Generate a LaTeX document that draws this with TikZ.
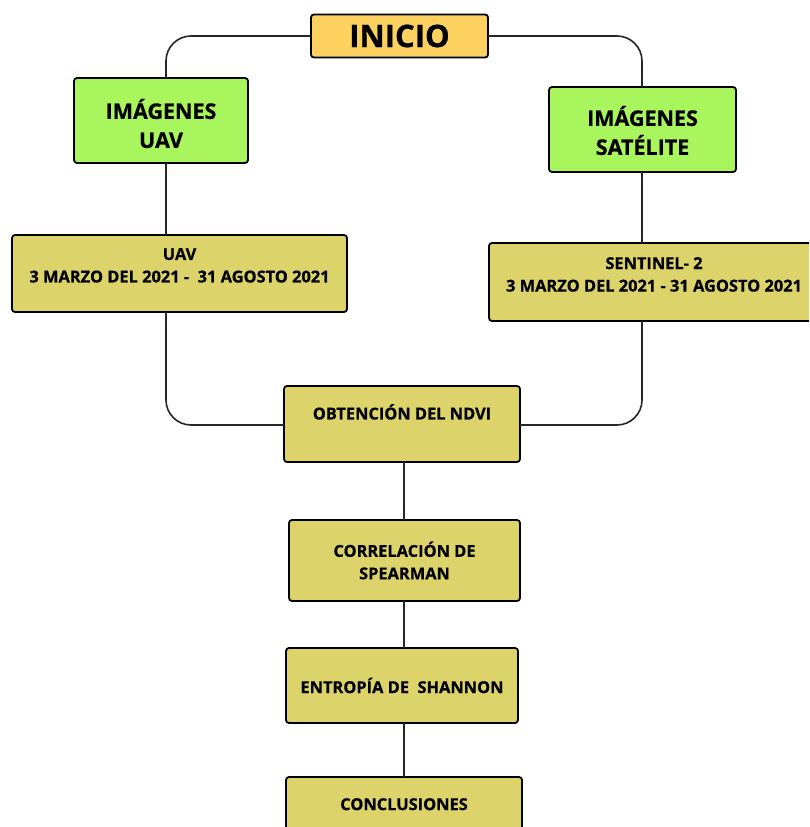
\documentclass[tikz,border=0pt]{standalone}
\usepackage{fontspec}
\IfFontExistsTF{Open Sans ExtraBold}
  {\setmainfont{Open Sans}[BoldFont={Open Sans ExtraBold}]}
  {\setmainfont{Open Sans}[BoldFeatures={FakeBold=0.6}]}
\definecolor{inicioc}{HTML}{FCD15F}
\definecolor{greenc}{HTML}{A8F55E}
\definecolor{olivec}{HTML}{DCD46B}
\definecolor{linec}{HTML}{262626}
\begin{document}
\begin{tikzpicture}[x=1pt,y=-1pt,
  box/.style={draw=black, line width=1.8pt, rounded corners=3pt, inner sep=0pt, outer sep=0pt},
  startbox/.style={box, fill=inicioc, font=\fontsize{31}{36}\selectfont\bfseries},
  greenbox/.style={box, fill=greenc},
  gtxt/.style={inner sep=0pt, align=center, font=\fontsize{21.5}{29}\selectfont\bfseries},
  olivebox/.style={box, fill=olivec},
  txt/.style={inner sep=0pt, align=center, font=\fontsize{16.4}{22.5}\selectfont\bfseries},
  conn/.style={draw=linec, line width=1.6pt, rounded corners=25pt}
]
\useasboundingbox (0,0) rectangle (809,827);
\clip (0,0) rectangle (809,827);
\fill[white] (0,0) rectangle (809,827);

\coordinate (lx) at (166,0);
\coordinate (rx) at (642,0);
\coordinate (mx) at (404,0);

% nodes
\node[startbox, minimum width=177pt, minimum height=43pt] (inicio) at (399.5,36) {INICIO};
\node[greenbox, minimum width=174pt, minimum height=85pt] (uavimg) at (161,120.5) {};
\node[gtxt] (uavimgtxt) at ([yshift=-3pt]uavimg.center) {IMÁGENES\\UAV};
\node[greenbox, minimum width=187pt, minimum height=85pt] (satimg) at (642.5,129.5) {};
\node[gtxt] (satimgtxt) at ([yshift=-1pt]satimg.center) {IMÁGENES\\SATÉLITE};

\node[olivebox, minimum width=335pt, minimum height=77pt] (uavbox) at (179.5,273.5) {};
\node[txt, anchor=north] (uavtxt) at ([yshift=-13pt]uavbox.north) {UAV\\3 MARZO DEL 2021 -\ \ 31 AGOSTO 2021};

\node[olivebox, minimum width=330pt, minimum height=78pt] (sentbox) at (654,282) {};
\node[txt, anchor=north] (senttxt) at ([yshift=-14pt]sentbox.north) {SENTINEL- 2\\3 MARZO DEL 2021 - 31 AGOSTO 2021};

\node[olivebox, minimum width=236pt, minimum height=76pt] (ndvi) at (402,424) {};
\node[txt, anchor=north] (ndvitxt) at ([yshift=-18pt]ndvi.north) {OBTENCIÓN DEL NDVI};

\node[olivebox, minimum width=231pt, minimum height=81pt] (corr) at (404.5,560.5) {};
\node[txt] (corrtxt) at (corr.center) {CORRELACIÓN DE\\SPEARMAN};

\node[olivebox, minimum width=232pt, minimum height=75pt] (entr) at (402,685.5) {};
\node[txt] (entrtxt) at (entr.center) {ENTROPÍA DE\ \ SHANNON};

\node[olivebox, minimum width=236pt, minimum height=76pt] (concl) at (404,815) {};
\node[txt, anchor=north] (concltxt) at ([yshift=-21pt]concl.north) {CONCLUSIONES};

% connectors
\draw[conn] (inicio.west) -| (uavimg.north -| lx);
\draw[conn] (inicio.east) -| (satimg.north -| rx);
\draw[conn] (uavimg.south -| lx) -- (uavbox.north -| lx);
\draw[conn] (satimg.south -| rx) -- (sentbox.north -| rx);
\draw[conn] (uavbox.south -| lx) |- ([yshift=-1pt]ndvi.west);
\draw[conn] (sentbox.south -| rx) |- ([yshift=-1pt]ndvi.east);
\draw[conn] (ndvi.south -| mx) -- (corr.north -| mx);
\draw[conn] (corr.south -| mx) -- (entr.north -| mx);
\draw[conn] (entr.south -| mx) -- (concl.north -| mx);
\end{tikzpicture}
\end{document}
